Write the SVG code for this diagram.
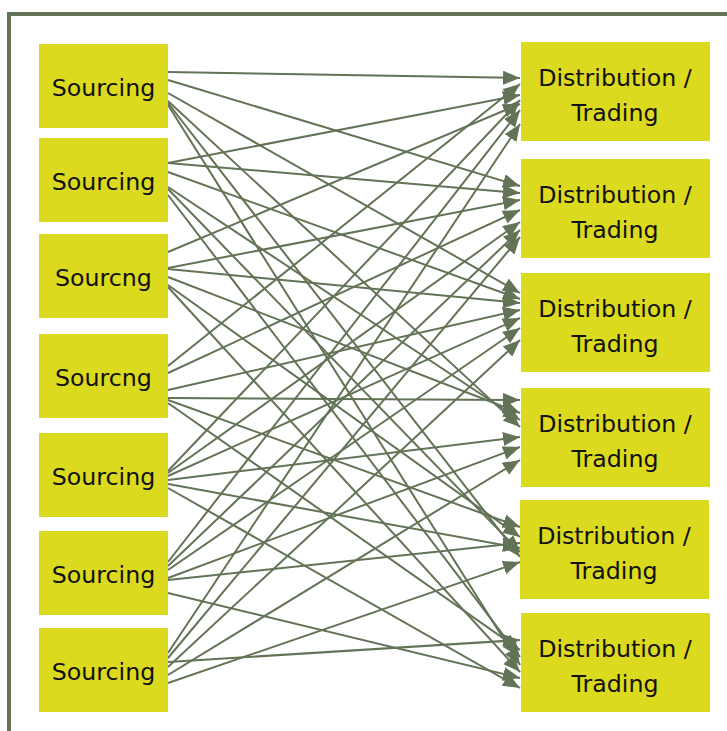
<svg xmlns="http://www.w3.org/2000/svg" width="727" height="731" viewBox="0 0 727 731">
<defs>
<style>
.src rect, .dst rect { fill: #dcda1e; }
.lbl { font-family: "DejaVu Sans", Verdana, sans-serif; font-size: 23.7px; fill: #111; text-anchor: middle; }
.edges line { stroke: #637356; stroke-width: 2; marker-end: url(#ah); }
</style>
<marker id="ah" markerUnits="userSpaceOnUse" markerWidth="17" markerHeight="14" refX="17" refY="7" orient="auto">
<path d="M0,0 L17,7 L0,14 z" fill="#637356"/>
</marker>
</defs>
<rect x="9" y="14" width="740" height="740" fill="none" stroke="#637356" stroke-width="4"/>
<g id="edges" class="edges">
<line x1="168" y1="72" x2="520" y2="78"/>
<line x1="168" y1="80" x2="520" y2="186"/>
<line x1="168" y1="93" x2="520" y2="293"/>
<line x1="168" y1="101" x2="520" y2="427"/>
<line x1="168" y1="103" x2="520" y2="557"/>
<line x1="168" y1="105" x2="520" y2="665"/>
<line x1="168" y1="163" x2="520" y2="95"/>
<line x1="168" y1="163" x2="520" y2="193"/>
<line x1="168" y1="172" x2="520" y2="299"/>
<line x1="168" y1="187" x2="520" y2="420"/>
<line x1="168" y1="189" x2="520" y2="552"/>
<line x1="168" y1="195" x2="520" y2="657"/>
<line x1="168" y1="252" x2="520" y2="104"/>
<line x1="168" y1="268" x2="520" y2="200"/>
<line x1="168" y1="269" x2="520" y2="303"/>
<line x1="168" y1="277" x2="520" y2="413"/>
<line x1="168" y1="285" x2="520" y2="537"/>
<line x1="168" y1="287" x2="520" y2="672"/>
<line x1="168" y1="366" x2="520" y2="84"/>
<line x1="168" y1="373" x2="520" y2="210"/>
<line x1="168" y1="390" x2="520" y2="310"/>
<line x1="168" y1="398" x2="520" y2="400"/>
<line x1="168" y1="400" x2="520" y2="527"/>
<line x1="168" y1="403" x2="520" y2="650"/>
<line x1="168" y1="471" x2="520" y2="100"/>
<line x1="168" y1="473" x2="520" y2="222"/>
<line x1="168" y1="476" x2="520" y2="318"/>
<line x1="168" y1="480" x2="520" y2="437"/>
<line x1="168" y1="484" x2="520" y2="548"/>
<line x1="168" y1="488" x2="520" y2="688"/>
<line x1="168" y1="562" x2="520" y2="110"/>
<line x1="168" y1="566" x2="520" y2="230"/>
<line x1="168" y1="570" x2="520" y2="328"/>
<line x1="168" y1="578" x2="520" y2="447"/>
<line x1="168" y1="580" x2="520" y2="543"/>
<line x1="168" y1="593" x2="520" y2="678"/>
<line x1="168" y1="653" x2="520" y2="124"/>
<line x1="168" y1="658" x2="520" y2="237"/>
<line x1="168" y1="667" x2="520" y2="340"/>
<line x1="168" y1="675" x2="520" y2="460"/>
<line x1="168" y1="683" x2="520" y2="562"/>
<line x1="168" y1="662" x2="520" y2="640"/>
</g>
<g id="s1" class="src"><rect x="39" y="44" width="129" height="84"/><text class="lbl" x="103.5" y="96">Sourcing</text></g>
<g id="s2" class="src"><rect x="39" y="138" width="129" height="84"/><text class="lbl" x="103.5" y="190">Sourcing</text></g>
<g id="s3" class="src"><rect x="39" y="234" width="129" height="84"/><text class="lbl" x="103.5" y="286">Sourcng</text></g>
<g id="s4" class="src"><rect x="39" y="334" width="129" height="84"/><text class="lbl" x="103.5" y="386">Sourcng</text></g>
<g id="s5" class="src"><rect x="39" y="433" width="129" height="84"/><text class="lbl" x="103.5" y="485">Sourcing</text></g>
<g id="s6" class="src"><rect x="39" y="531" width="129" height="84"/><text class="lbl" x="103.5" y="583">Sourcing</text></g>
<g id="s7" class="src"><rect x="39" y="628" width="129" height="84"/><text class="lbl" x="103.5" y="680">Sourcing</text></g>
<g id="t1" class="dst"><rect x="521" y="42" width="189" height="99"/><text class="lbl" x="615" y="86">Distribution /</text><text class="lbl" x="615" y="121">Trading</text></g>
<g id="t2" class="dst"><rect x="521" y="159" width="189" height="99"/><text class="lbl" x="615" y="203">Distribution /</text><text class="lbl" x="615" y="238">Trading</text></g>
<g id="t3" class="dst"><rect x="521" y="273" width="189" height="99"/><text class="lbl" x="615" y="317">Distribution /</text><text class="lbl" x="615" y="352">Trading</text></g>
<g id="t4" class="dst"><rect x="521" y="388" width="189" height="99"/><text class="lbl" x="615" y="432">Distribution /</text><text class="lbl" x="615" y="467">Trading</text></g>
<g id="t5" class="dst"><rect x="520" y="500" width="189" height="99"/><text class="lbl" x="614" y="544">Distribution /</text><text class="lbl" x="614" y="579">Trading</text></g>
<g id="t6" class="dst"><rect x="521" y="613" width="189" height="99"/><text class="lbl" x="615" y="657">Distribution /</text><text class="lbl" x="615" y="692">Trading</text></g>
</svg>
